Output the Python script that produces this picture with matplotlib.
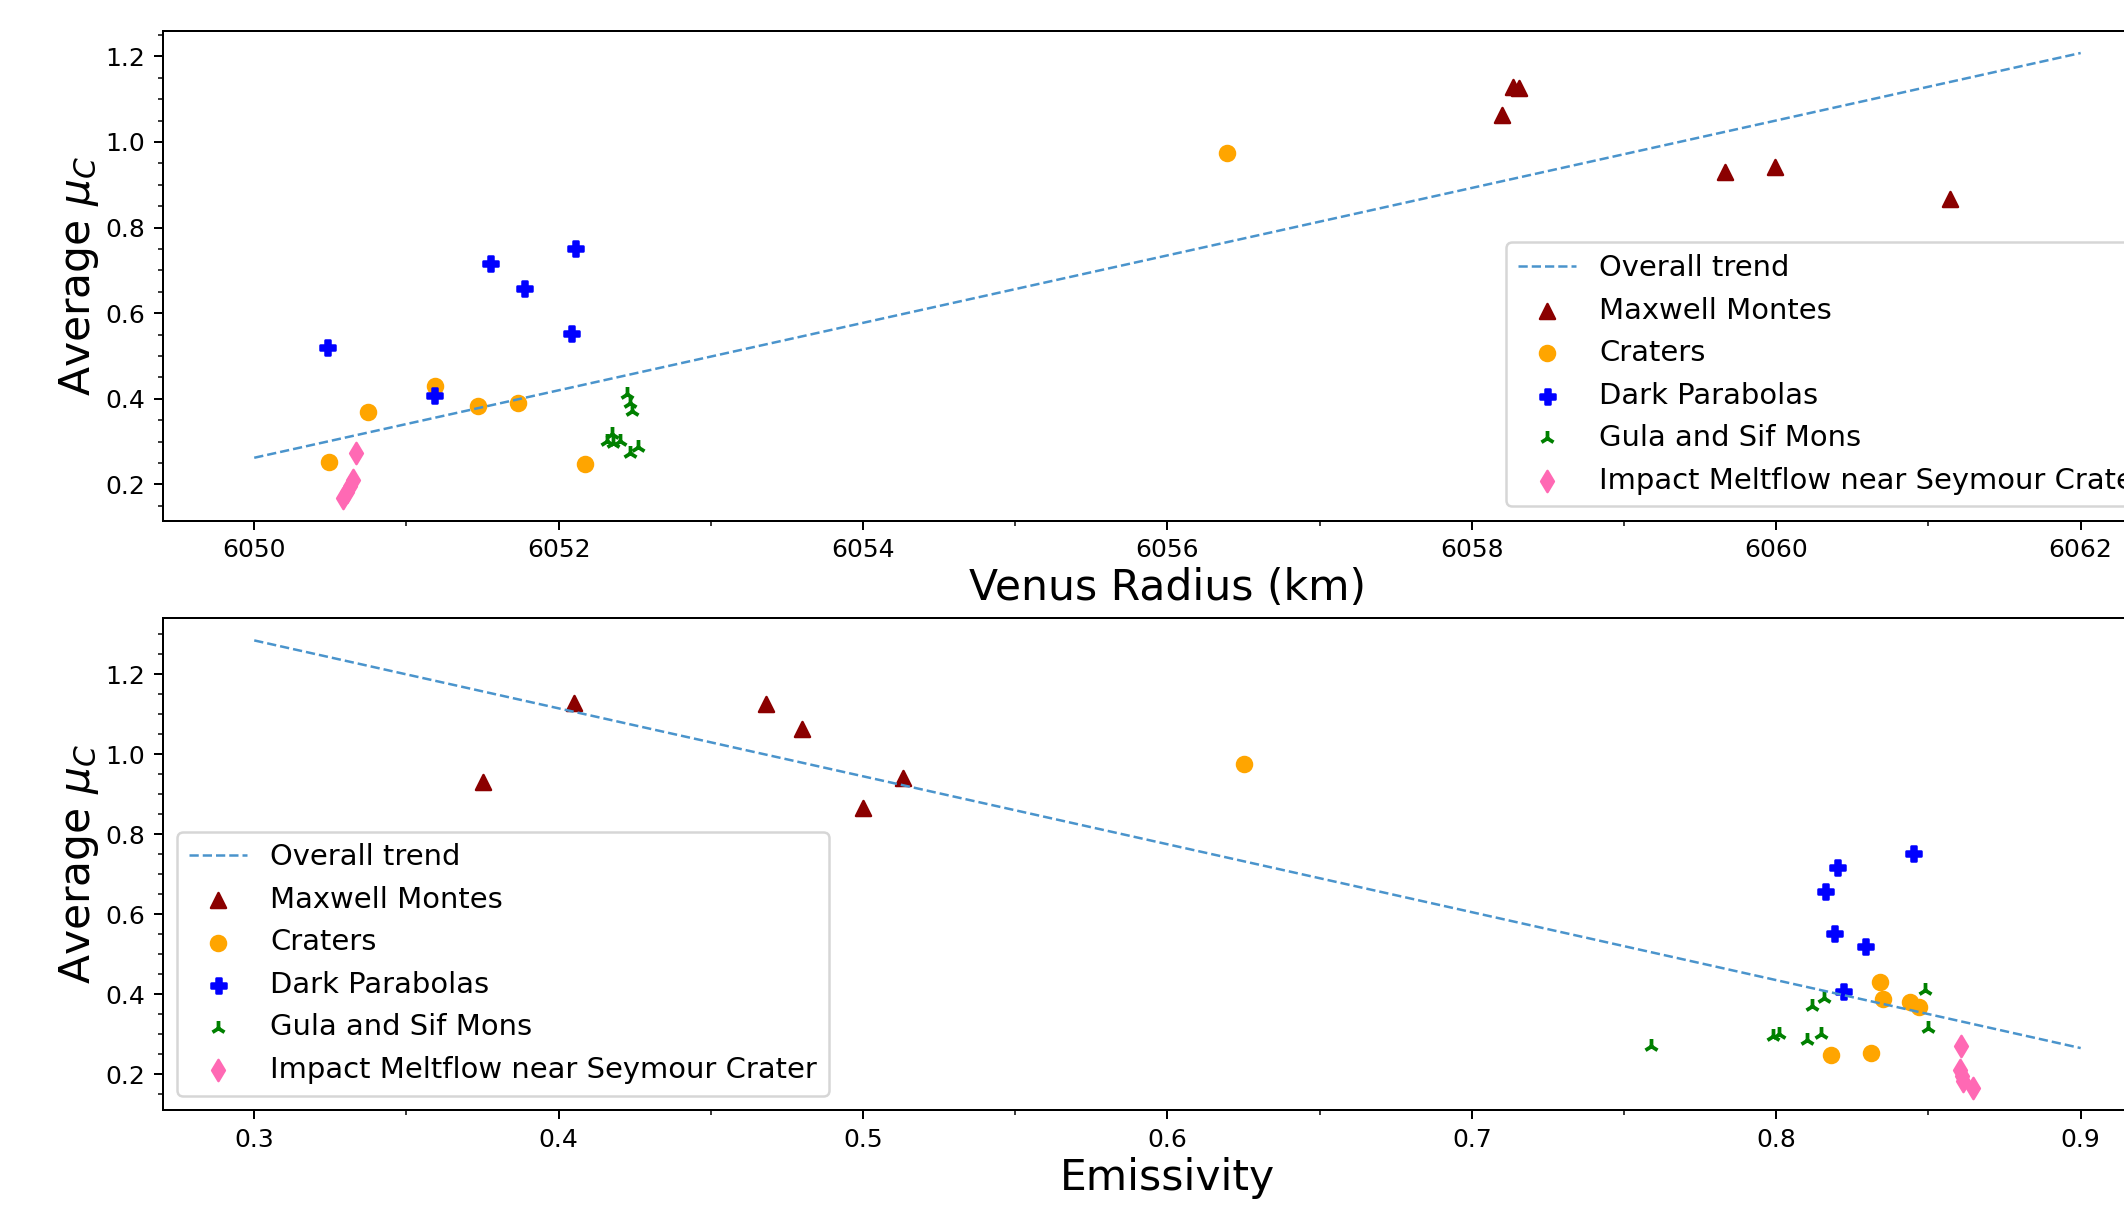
import matplotlib
matplotlib.use("Agg")
import matplotlib.pyplot as plt
from matplotlib.ticker import MultipleLocator, AutoMinorLocator

# Maxwell Montes
maxwell_radius = [6058.27, 6058.31, 6058.20, 6059.66, 6059.99, 6061.14]
maxwell_emis = [0.405, 0.468, 0.480, 0.375, 0.513, 0.500]
maxwell_mu = [1.128, 1.126, 1.063, 0.930, 0.942, 0.867]

# Craters
crater_radius = [6056.39, 6050.49, 6050.75, 6051.19, 6051.47, 6051.73, 6052.17]
crater_emis = [0.625, 0.831, 0.847, 0.834, 0.844, 0.835, 0.818]
crater_mu = [0.975, 0.253, 0.369, 0.430, 0.382, 0.389, 0.248]

# Dark Parabolas
parab_radius = [6050.48, 6051.18, 6051.55, 6051.77, 6052.08, 6052.11]
parab_emis = [0.829, 0.822, 0.820, 0.816, 0.819, 0.845]
parab_mu = [0.522, 0.408, 0.718, 0.659, 0.553, 0.753]

# Gula and Sif Mons
gula_radius = [6052.45, 6052.47, 6052.48, 6052.35, 6052.32, 6052.36, 6052.40, 6052.52, 6052.47]
gula_emis = [0.849, 0.8156, 0.8118, 0.850, 0.8146, 0.799, 0.801, 0.810, 0.759]
gula_mu = [0.410, 0.390, 0.372, 0.317, 0.302, 0.297, 0.301, 0.287, 0.272]

# Impact Meltflow near Seymour Crater
melt_radius = [6050.67, 6050.65, 6050.63, 6050.61, 6050.58]
melt_emis = [0.8608, 0.8605, 0.8610, 0.8614, 0.8646]
melt_mu = [0.272, 0.210, 0.195, 0.183, 0.167]

# overall trend lines (end points of the fits)
trend_radius = [6050, 6062]
trend_radius_mu = [0.262, 1.208]
trend_emis = [0.3, 0.9]
trend_emis_mu = [1.285, 0.266]

groups = [
    ("Maxwell Montes", maxwell_radius, maxwell_emis, maxwell_mu, "darkred", "^"),
    ("Craters", crater_radius, crater_emis, crater_mu, "orange", "o"),
    ("Dark Parabolas", parab_radius, parab_emis, parab_mu, "blue", "P"),
    ("Gula and Sif Mons", gula_radius, gula_emis, gula_mu, "green", "2"),
    ("Impact Meltflow near Seymour Crater", melt_radius, melt_emis, melt_mu, "hotpink", "d"),
]

trend_color = "#4a94cc"

fig = plt.figure(figsize=(2124 / 180, 1205 / 180), dpi=180)
ax1 = fig.add_axes([0.0767, 0.5679, 0.9459, 0.4066])
ax2 = fig.add_axes([0.0767, 0.0788, 0.9459, 0.4083])

# radius panel
ax1.plot(trend_radius, trend_radius_mu, "--", color=trend_color, lw=1, label="Overall trend")
for name, rad, emis, mu, col, mk in groups:
    ax1.scatter(rad, mu, c=col, marker=mk, label=name)
ax1.set_xlabel("Venus Radius (km)", fontsize=17, labelpad=2)
ax1.set_ylabel(r"Average $\mu_C$", fontsize=17, labelpad=2)
ax1.xaxis.set_major_locator(MultipleLocator(2))
ax1.xaxis.set_minor_locator(AutoMinorLocator(2))
ax1.yaxis.set_major_locator(MultipleLocator(0.2))
ax1.yaxis.set_minor_locator(AutoMinorLocator(4))
ax1.legend(loc="lower right", fontsize=11.6)

# emissivity panel
ax2.plot(trend_emis, trend_emis_mu, "--", color=trend_color, lw=1, label="Overall trend")
for name, rad, emis, mu, col, mk in groups:
    ax2.scatter(emis, mu, c=col, marker=mk, label=name)
ax2.set_xlabel("Emissivity", fontsize=17, labelpad=2)
ax2.set_ylabel(r"Average $\mu_C$", fontsize=17, labelpad=2)
ax2.xaxis.set_major_locator(MultipleLocator(0.1))
ax2.xaxis.set_minor_locator(AutoMinorLocator(2))
ax2.yaxis.set_major_locator(MultipleLocator(0.2))
ax2.yaxis.set_minor_locator(AutoMinorLocator(4))
ax2.legend(loc="lower left", fontsize=11.6)

fig.savefig("out.png", dpi=180)
